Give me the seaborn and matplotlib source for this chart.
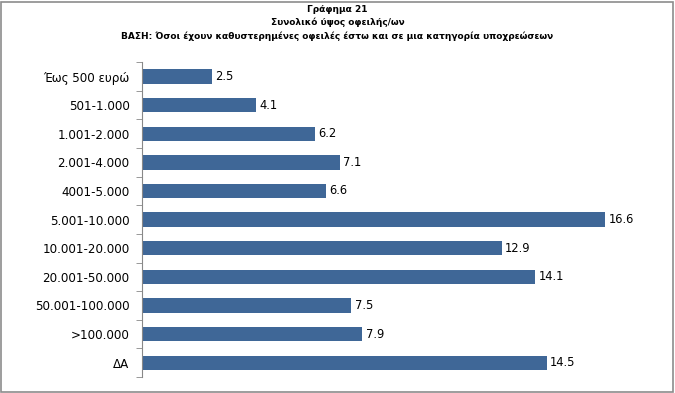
import matplotlib
matplotlib.use("Agg")
import matplotlib.pyplot as plt
import seaborn as sns
import pandas as pd

categories = ["Έως 500 ευρώ", "501-1.000", "1.001-2.000", "2.001-4.000", "4001-5.000",
              "5.001-10.000", "10.001-20.000", "20.001-50.000", "50.001-100.000",
              ">100.000", "ΔΑ"]
values = [2.5, 4.1, 6.2, 7.1, 6.6, 16.6, 12.9, 14.1, 7.5, 7.9, 14.5]
title_lines = ["Γράφημα 21", "Συνολικό ύψος οφειλής/ων",
               "ΒΑΣΗ: Όσοι έχουν καθυστερημένες οφειλές έστω και σε μια κατηγορία υποχρεώσεων"]

df = pd.DataFrame({"cat": categories, "val": values})

sns.set_style("white")
plt.rcParams['font.family'] = ['DejaVu Sans']
plt.rcParams['text.color'] = 'black'
plt.rcParams['ytick.labelcolor'] = 'black'

fig = plt.figure(figsize=(6.75, 3.93), dpi=100)
ax = fig.add_axes([0.2104, 0.0407, 0.744, 0.801])

sns.barplot(data=df, x="val", y="cat", color="#3F6797", width=0.5, saturation=1,
            edgecolor="none", linewidth=0, ax=ax)

ax.set_xlim(0, 18)
ax.set_ylim(len(categories) - 0.5, -0.5)
for i, v in enumerate(values):
    ax.text(v + 0.12, i, f"{v:.1f}", va="center", ha="left", fontsize=8.3, color="black")

ax.set_xlabel("")
ax.set_ylabel("")
ax.set_xticks([])
ax.set_yticks(range(len(categories)))
ax.set_yticklabels(categories, fontsize=8.6, color="black")
ax.set_yticks([i - 0.5 for i in range(len(categories) + 1)], minor=True)
ax.tick_params(axis="y", which="major", length=0, pad=9)
ax.tick_params(axis="y", which="minor", length=4, color="#888888", left=True)
for s in ["top", "right", "bottom"]:
    ax.spines[s].set_visible(False)
ax.spines["left"].set_color("#888888")
ax.spines["left"].set_linewidth(0.8)

fig.text(0.5, 1 - 10 / 393, title_lines[0], ha="center", va="center", fontsize=6.5, fontweight="bold")
fig.text(0.5, 1 - 22 / 393, title_lines[1], ha="center", va="center", fontsize=6.5, fontweight="bold")
fig.text(0.5, 1 - 36 / 393, title_lines[2], ha="center", va="center", fontsize=6.5, fontweight="bold")

border = plt.Rectangle((0.001, 0.003), 0.996, 0.993, transform=fig.transFigure,
                       fill=False, edgecolor="#8c8c8c", linewidth=1.2)
fig.patches.append(border)

fig.savefig("out.png", dpi=100)
